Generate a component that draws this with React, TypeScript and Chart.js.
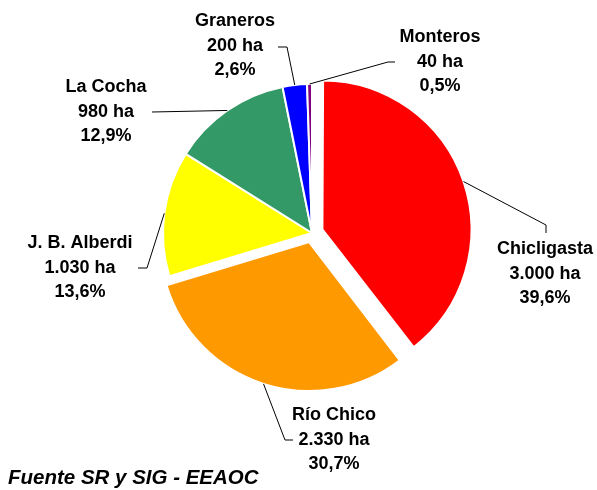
import React, { useEffect, useRef } from "react";
import { Chart, registerables, ArcElement } from "chart.js";

Chart.register(...registerables);

// Keep exploded slices at the same radius as the others (Chart.js enlarges them slightly otherwise)
const baseArcDraw = (ArcElement as any).prototype.draw;
if (!(ArcElement as any).prototype.__noGrow) {
  (ArcElement as any).prototype.__noGrow = true;
  (ArcElement as any).prototype.draw = function (ctx: CanvasRenderingContext2D) {
    const off = ((this.options && this.options.offset) || 0) / 4;
    const fix = 1 - Math.sin(Math.min(Math.PI, this.circumference || 0));
    const saved = this.outerRadius;
    this.outerRadius = Math.max(saved - off * fix, 0);
    baseArcDraw.call(this, ctx);
    this.outerRadius = saved;
  };
}

// ---- data ----
const categories = ["Chicligasta", "Río Chico", "J. B. Alberdi", "La Cocha", "Graneros", "Monteros"];
const hectares = [3000, 2330, 1030, 980, 200, 40];
const sliceColors = ["#FF0000", "#FF9900", "#FFFF00", "#339966", "#0000FF", "#800080"];
const explodeOffsets = [44, 38, 0, 0, 0, 0];
const sourceNote = "Fuente SR y SIG - EEAOC";

// label placement (text block centre = middle line) and leader-line bends, canvas px
const labelLayout = [
  { x: 545, y: 274, path: [[546, 225], [546, 233]] },
  { x: 334, y: 440, path: [[285, 440], [293, 440]] },
  { x: 80, y: 268, path: [[147, 268], [138, 268]] },
  { x: 106, y: 112, path: [[152, 112]] },
  { x: 235, y: 46, path: [[287, 47], [278, 47]] },
  { x: 440, y: 62, path: [[388, 62], [395, 62]] },
];

const total = hectares.reduce((a, b) => a + b, 0);
const fmtHa = (v: number) => String(v).replace(/\B(?=(\d{3})+(?!\d))/g, ".") + " ha";
const fmtPct = (v: number) => ((v / total) * 100).toFixed(1).replace(".", ",") + "%";

const labelPlugin = {
  id: "excelLabels",
  afterDatasetsDraw(chart: any) {
    const ctx = chart.ctx;
    const meta = chart.getDatasetMeta(0);
    ctx.save();
    meta.data.forEach((arc: any, i: number) => {
      const p = arc.getProps(["x", "y", "startAngle", "endAngle", "outerRadius"], true);
      const mid = (p.startAngle + p.endAngle) / 2;
      const shift = (explodeOffsets[i] || 0) / 4;
      const r = p.outerRadius + shift;
      const ax = p.x + Math.cos(mid) * r;
      const ay = p.y + Math.sin(mid) * r;
      const lay = labelLayout[i];
      ctx.beginPath();
      ctx.strokeStyle = "#000";
      ctx.lineWidth = 1;
      ctx.moveTo(ax, ay);
      lay.path.forEach((pt) => ctx.lineTo(pt[0], pt[1]));
      ctx.stroke();

      ctx.fillStyle = "#000";
      ctx.font = "bold 18px 'Liberation Sans', Arial, sans-serif";
      ctx.textAlign = "center";
      ctx.textBaseline = "middle";
      const lh = 24.5;
      ctx.fillText(categories[i], lay.x, lay.y - lh);
      ctx.fillText(fmtHa(hectares[i]), lay.x, lay.y);
      ctx.fillText(fmtPct(hectares[i]), lay.x, lay.y + lh);
    });
    ctx.font = "italic bold 20.5px 'Liberation Sans', Arial, sans-serif";
    ctx.textAlign = "left";
    ctx.textBaseline = "middle";
    ctx.fillStyle = "#000";
    ctx.fillText(sourceNote, 8, 478);
    ctx.restore();
  },
};

export default function App() {
  const ref = useRef<HTMLCanvasElement | null>(null);
  useEffect(() => {
    if (!ref.current) return;
    const chart = new Chart(ref.current, {
      type: "pie",
      data: {
        labels: categories,
        datasets: [
          {
            data: hectares,
            backgroundColor: sliceColors,
            borderColor: "#FFFFFF",
            borderWidth: 2,
            offset: explodeOffsets,
          } as any,
        ],
      },
      options: {
        responsive: false,
        animation: false,
        events: [],
        radius: 149,
        layout: { padding: { left: 162, right: 135, top: 83, bottom: 107 } },
        plugins: {
          legend: { display: false },
          tooltip: { enabled: false },
          title: { display: false },
        },
      } as any,
      plugins: [labelPlugin],
    });
    return () => chart.destroy();
  }, []);
  return (
    <div style={{ position: "absolute", left: 0, top: 0, width: 597, height: 490, background: "#fff" }}>
      <canvas ref={ref} width={597} height={490} style={{ width: 597, height: 490, display: "block" }} />
    </div>
  );
}
